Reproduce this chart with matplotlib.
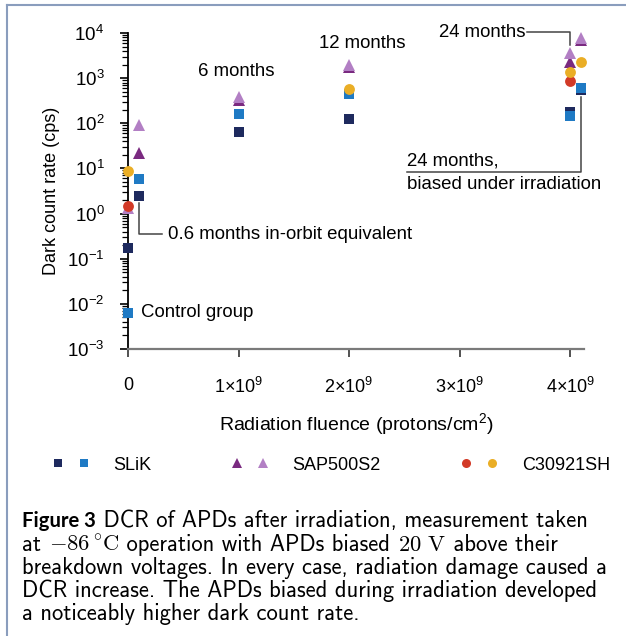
import matplotlib
matplotlib.use("Agg")
import matplotlib.pyplot as plt
from matplotlib.lines import Line2D
from matplotlib.legend_handler import HandlerTuple
from matplotlib.ticker import LogLocator, FixedLocator, NullFormatter

# ---------------- data ----------------
slik_dark_x = [0, 0.1e9, 1e9, 2e9, 4e9, 4.1e9]
slik_dark_y = [0.17, 2.5, 65, 124, 175, 560]
slik_light_x = [0, 0.1e9, 1e9, 2e9, 4e9, 4.1e9]
slik_light_y = [0.0063, 5.8, 161, 446, 145, 620]
sap_dark_x = [0.1e9, 1e9, 2e9, 4e9, 4.1e9]
sap_dark_y = [21.6, 330, 1800, 2310, 7000]
sap_light_x = [0, 0.1e9, 1e9, 2e9, 4e9, 4.1e9]
sap_light_y = [1.3, 91, 390, 1950, 3660, 7640]
c309_red_x = [0, 4e9]
c309_red_y = [1.47, 865]
c309_yel_x = [0, 2e9, 4e9, 4.1e9]
c309_yel_y = [8.7, 575, 1390, 2310]

x_ticks = [0, 1e9, 2e9, 3e9, 4e9]
x_ticklabels = ["0", r"1×10$^9$", r"2×10$^9$", r"3×10$^9$", r"4×10$^9$"]
y_major = [1e-3, 1e-2, 1e-1, 1e0, 1e1, 1e2, 1e3, 1e4]
y_ticklabels = [r"10$^{-3}$", r"10$^{-2}$", r"10$^{-1}$", r"10$^{0}$",
                r"10$^{1}$", r"10$^{2}$", r"10$^{3}$", r"10$^{4}$"]
legend_labels = ["SLiK", "SAP500S2", "C30921SH"]

NAVY = "#1e2a5e"
LBLUE = "#1f7ac4"
DPURP = "#7a2a80"
LPURP = "#b27fc4"
RED = "#d23a27"
YEL = "#eaae26"

plt.rcParams["font.family"] = ["Liberation Sans", "DejaVu Sans"]
plt.rcParams["mathtext.fontset"] = "custom"
plt.rcParams["mathtext.rm"] = "Liberation Sans"
plt.rcParams["mathtext.it"] = "Liberation Sans:italic"
plt.rcParams["mathtext.bf"] = "Liberation Sans:bold"

W, H = 626, 636
fig = plt.figure(figsize=(W / 100, H / 100), dpi=100)
ax = fig.add_axes([128 / W, 1 - 349 / H, (584 - 128) / W, (349 - 33) / H])

FS = 13
ms_sq = 7.2
ms_tri = 8.8
ms_c = 7.8
ax.plot(slik_dark_x, slik_dark_y, "s", color=NAVY, ms=ms_sq, mew=0, clip_on=False, zorder=3)
ax.plot(slik_light_x, slik_light_y, "s", color=LBLUE, ms=ms_sq, mew=0, clip_on=False, zorder=3.1)
ax.plot(sap_dark_x, sap_dark_y, "^", color=DPURP, ms=ms_tri, mew=0, clip_on=False, zorder=3.2)
ax.plot(sap_light_x, sap_light_y, "^", color=LPURP, ms=ms_tri, mew=0, clip_on=False, zorder=3.3)
ax.plot(c309_red_x, c309_red_y, "o", color=RED, ms=ms_c, mew=0, clip_on=False, zorder=3.4)
ax.plot(c309_yel_x, c309_yel_y, "o", color=YEL, ms=ms_c, mew=0, clip_on=False, zorder=3.5)

ax.set_yscale("log")
ax.set_ylim(1e-3, 1e4)
ax.set_xlim(0, 4.125e9)
ax.yaxis.set_major_locator(FixedLocator(y_major))
ax.set_yticklabels(y_ticklabels)
ax.yaxis.set_minor_locator(LogLocator(base=10, subs=range(2, 10), numticks=20))
ax.yaxis.set_minor_formatter(NullFormatter())
ax.set_xticks(x_ticks)
ax.set_xticklabels(x_ticklabels)
ax.tick_params(axis="both", which="major", labelsize=FS, direction="out", length=6, width=1.2)
ax.tick_params(axis="y", which="minor", direction="out", length=4, width=0.9)
ax.tick_params(axis="x", which="major", pad=14, color="#333333")
ax.tick_params(axis="y", which="major", pad=11, labelsize=13.5)
for s in ["top", "right"]:
    ax.spines[s].set_visible(False)
ax.spines["left"].set_linewidth(1.3)
ax.spines["bottom"].set_linewidth(1.6)
ax.spines["bottom"].set_color("#7a7a7a")

ax.set_ylabel("Dark count rate (cps)", fontsize=FS, labelpad=5)
ax.set_xlabel(r"Radiation fluence (protons/cm$^2$)", fontsize=14, labelpad=10)

# annotations
ax.text(0.98e9, 1370, "6 months", fontsize=13.4, ha="center", va="center")
ax.text(2.12e9, 6000, "12 months", fontsize=13.4, ha="center", va="center")
ax.text(3.6e9, 1.05e4, "24 months", fontsize=13.4, ha="right", va="center", clip_on=False)
ax.plot([3.61e9, 4.0e9, 4.0e9], [1.05e4, 1.05e4, 5400], color="#444444", lw=1.1, clip_on=False)
ax.text(2.527e9, 14.6, "24 months,", fontsize=13.4, ha="left", va="center")
ax.text(2.527e9, 4.5, "biased under irradiation", fontsize=13.4, ha="left", va="center")
ax.plot([2.527e9, 4.1e9, 4.1e9], [8.3, 8.3, 380], color="#444444", lw=1.1)
ax.plot([0.1e9, 0.1e9, 0.307e9], [1.75, 0.352, 0.352], color="#444444", lw=1.1)
ax.text(0.36e9, 0.352, "0.6 months in-orbit equivalent", fontsize=13.4, ha="left", va="center")
ax.text(0.117e9, 0.0063, "Control group", fontsize=13.4, ha="left", va="center")

# legend
h1 = (Line2D([], [], ls="none", marker="s", color=NAVY, ms=5.5, mew=0),
      Line2D([], [], ls="none", marker="s", color=LBLUE, ms=5.5, mew=0))
h2 = (Line2D([], [], ls="none", marker="^", color=DPURP, ms=6.5, mew=0),
      Line2D([], [], ls="none", marker="^", color=LPURP, ms=6.5, mew=0))
h3 = (Line2D([], [], ls="none", marker="o", color=RED, ms=6.5, mew=0),
      Line2D([], [], ls="none", marker="o", color=YEL, ms=6.5, mew=0))
fig.legend([h1, h2, h3], legend_labels, handler_map={tuple: HandlerTuple(ndivide=None, pad=0.6)},
           ncol=3, frameon=False, fontsize=FS, loc="center left",
           bbox_to_anchor=(50.4 / W, 1 - 465 / H), handlelength=2.3, handletextpad=1.2,
           columnspacing=4.3, borderaxespad=0, borderpad=0)

# frame lines
fig.add_artist(Line2D([7 / W, 1], [1 - 5 / H, 1 - 5 / H], transform=fig.transFigure, color="#8a9dbd", lw=1.5))
fig.add_artist(Line2D([7 / W, 7 / W], [1 - 5 / H, 0], transform=fig.transFigure, color="#8a9dbd", lw=1.5))

# caption
CFS = 16.3
CF = "cmss10"
renderer = fig.canvas.get_renderer()


def put_line(pieces, y):
    x = 22 / W
    for txt, kw in pieces:
        opts = dict(fontsize=CFS, va="baseline", ha="left")
        opts.update(kw)
        t = fig.text(x, 1 - y / H, txt, **opts)
        bb = t.get_window_extent(renderer=renderer)
        x += bb.width / W


reg = dict(family=CF)
mth = dict(family=CF, math_fontfamily="cm")
put_line([("Figure 3", dict(family="Lato", weight="bold", fontsize=14.6)),
          (" DCR of APDs after irradiation, measurement taken", reg)], 527)
put_line([("at ", reg), (r"$-86\,^{\circ}\mathrm{C}$", mth),
          (" operation with APDs biased ", reg), (r"$20\ \mathrm{V}$", mth),
          (" above their", reg)], 551)
put_line([("breakdown voltages. In every case, radiation damage caused a", reg)], 574)
put_line([("DCR increase. The APDs biased during irradiation developed", reg)], 597)
put_line([("a noticeably higher dark count rate.", reg)], 620)

fig.savefig("out.png", dpi=100)
